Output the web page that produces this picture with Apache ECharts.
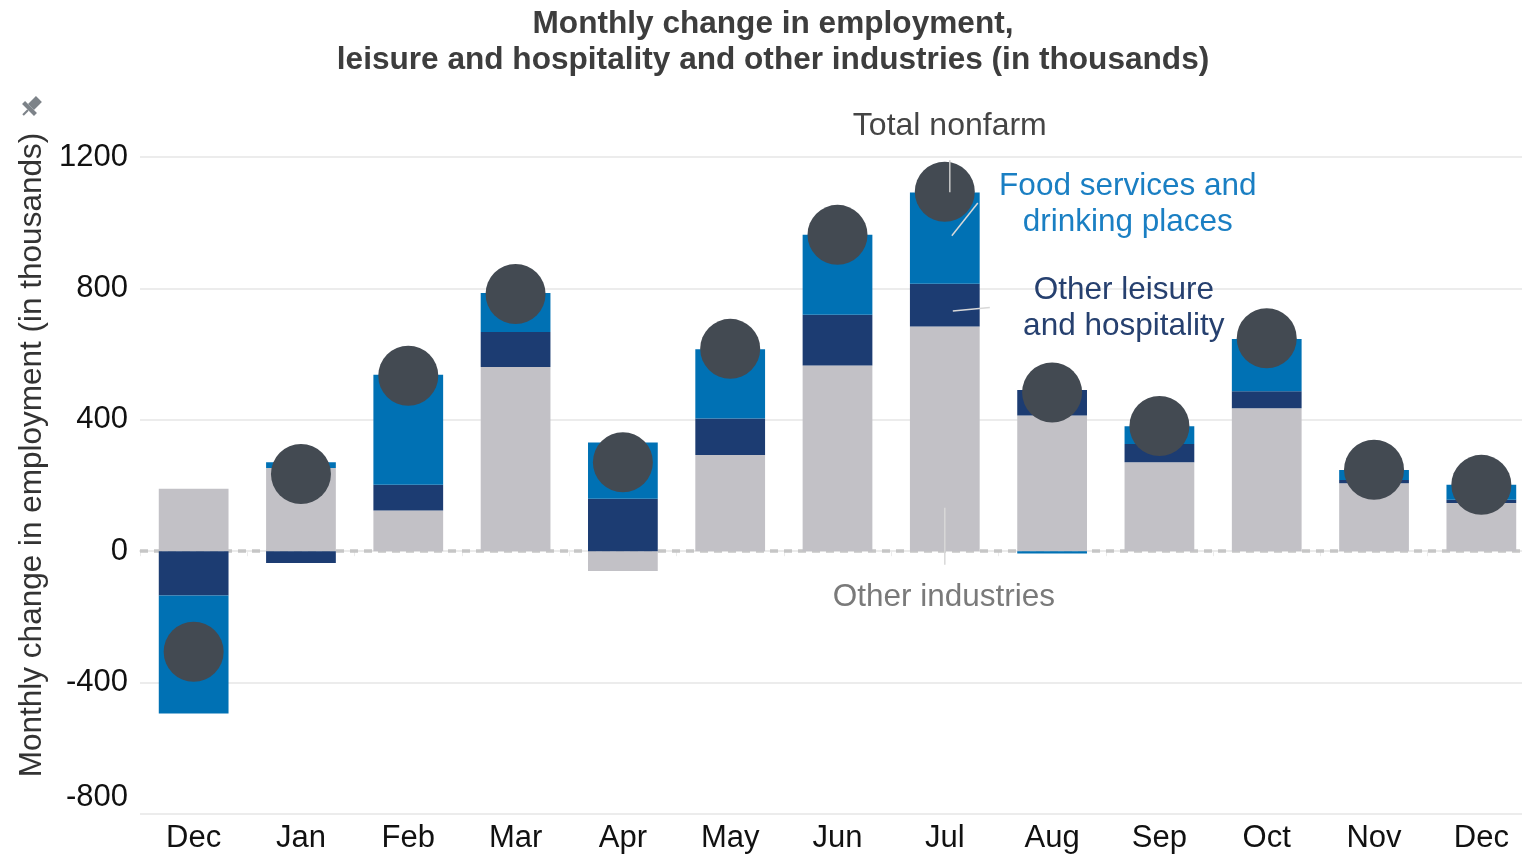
<!DOCTYPE html>
<html>
<head>
<meta charset="utf-8">
<script src="https://cdn.jsdelivr.net/npm/echarts@6/dist/echarts.min.js"></script>
<style>
html,body{margin:0;padding:0;background:#fff;}
#chart{width:1522px;height:855px;}
</style>
</head>
<body>
<div id="chart"></div>
<script>
const categories = ['Dec','Jan','Feb','Mar','Apr','May','Jun','Jul','Aug','Sep','Oct','Nov','Dec'];
const otherIndustries = [190, 253, 124, 561, -60, 293, 565, 684, 413, 271, 435, 207, 147];
const otherLeisure = [-135, -36, 78, 106, 160, 111, 155, 130, 78, 55, 52, 10, 10];
const foodServices = [-359, 18, 335, 119, 171, 211, 243, 278, -7, 54, 159, 30, 45];
const totalNonfarm = [-306, 235, 534, 783, 271, 616, 963, 1094, 483, 381, 648, 248, 202];
const yTicks = [-800, -400, 0, 400, 800, 1200];

const FONT = '"Liberation Sans", Arial, sans-serif';
const FS = 31;
const FA = 31.5;
const chart = echarts.init(document.getElementById('chart'));

const option = {
  animation: false,
  backgroundColor: '#ffffff',
  title: {
    text: 'Monthly change in employment,\nleisure and hospitality and other industries (in thousands)',
    left: 768,
    textAlign: 'center',
    top: 1,
    textStyle: { fontFamily: FONT, fontSize: 31.6, fontWeight: 'bold', color: '#3d3d3d', lineHeight: 36 }
  },
  grid: { left: 140, width: 1395, top: 157, bottom: 41, containLabel: false, outerBoundsMode: 'none' },
  xAxis: {
    type: 'category',
    data: categories,
    axisLine: { lineStyle: { color: '#ebebeb', width: 2 } },
    axisTick: { show: true, length: 5, lineStyle: { color: '#ebebeb', width: 1 } },
    axisLabel: { fontFamily: FONT, fontSize: FS, color: '#111', margin: 9 },
    splitLine: { show: false }
  },
  yAxis: {
    type: 'value',
    min: yTicks[0],
    max: yTicks[yTicks.length - 1],
    interval: 400,
    axisLine: { show: false },
    axisTick: { show: false },
    axisLabel: {
      fontFamily: FONT, fontSize: FS, color: '#111', margin: 12,
      formatter: v => v === yTicks[0] ? '{lo|' + v + '}' : String(v),
      rich: { lo: { fontFamily: FONT, fontSize: FS, color: '#111', padding: [0, 0, 34, 0] } }
    },
    splitLine: { lineStyle: { color: '#ececec', width: 2 } }
  },
  series: [
    {
      name: 'Other industries', type: 'bar', stack: 'emp', barWidth: '65%',
      data: otherIndustries,
      itemStyle: { color: '#c2c1c6' },
      z: 3,
      markLine: {
        silent: true, symbol: 'none', label: { show: false },
        lineStyle: { color: '#c6c6c6', type: [8, 6], width: 3.5, opacity: 1 },
        data: [{ yAxis: 0 }],
        z: 1
      }
    },
    {
      name: 'Other leisure and hospitality', type: 'bar', stack: 'emp', z: 3,
      data: otherLeisure,
      itemStyle: { color: '#1c3c72' }
    },
    {
      name: 'Food services and drinking places', type: 'bar', stack: 'emp', z: 3,
      data: foodServices,
      itemStyle: { color: '#0071b4' }
    },
    {
      name: 'Total nonfarm', type: 'scatter',
      data: totalNonfarm,
      symbolSize: 60,
      itemStyle: { color: '#434a52', opacity: 1 },
      z: 10
    }
  ]
};
chart.setOption(option);

function px(xi, v) { return chart.convertToPixel({ gridIndex: 0 }, [xi, v]); }

const pTotal = px(7, 1294);
const pFood = px(7, 1057);
const pLeis = px(7, 740);
const pOther = px(7, -141);
const l1a = px(7, 1190), l1b = px(7, 1093);
const l2a = px(7, 1060), l2b = px(7, 960);
const l3a = px(7, 742), l3b = px(7, 731);
const l4a = px(7, 132), l4b = px(7, -41);

chart.setOption({
  graphic: [
    { type: 'group', x: 31, y: 107, rotation: -Math.PI / 4, scaleX: 1.4, scaleY: 1.4, z: 100, children: [
      { type: 'rect', shape: { x: -3, y: -8, width: 6, height: 8 }, style: { fill: '#7d8389' } },
      { type: 'rect', shape: { x: -6, y: 0, width: 12, height: 3 }, style: { fill: '#7d8389' } },
      { type: 'line', shape: { x1: 0, y1: 3, x2: 0, y2: 8 }, style: { stroke: '#7d8389', lineWidth: 1.5 } }
    ] },
    { type: 'text', z: 100, x: 32, y: 455, rotation: Math.PI / 2,
      style: { text: 'Monthly change in employment (in thousands)', font: FA + 'px ' + FONT, fill: '#333', textAlign: 'center', textVerticalAlign: 'middle' } },
    { type: 'text', z: 100, x: pTotal[0] + 5, y: pTotal[1],
      style: { text: 'Total nonfarm', font: '32px ' + FONT, fill: '#454545', textAlign: 'center', textVerticalAlign: 'middle' } },
    { type: 'text', z: 100, x: pFood[0] + 183, y: pFood[1],
      style: { text: 'Food services and\ndrinking places', font: FA + 'px ' + FONT, fill: '#1a7fc3', textAlign: 'center', textVerticalAlign: 'middle', lineHeight: 36 } },
    { type: 'text', z: 100, x: pLeis[0] + 179, y: pLeis[1],
      style: { text: 'Other leisure\nand hospitality', font: FA + 'px ' + FONT, fill: '#26406f', textAlign: 'center', textVerticalAlign: 'middle', lineHeight: 36 } },
    { type: 'text', z: 100, x: pOther[0] - 1, y: pOther[1],
      style: { text: 'Other industries', font: FA + 'px ' + FONT, fill: '#7a7a7a', textAlign: 'center', textVerticalAlign: 'middle' } },
    { type: 'line', z: 100, shape: { x1: l1a[0] + 5, y1: l1a[1], x2: l1b[0] + 5, y2: l1b[1] }, style: { stroke: '#c8c8c8', lineWidth: 1.5 } },
    { type: 'line', z: 100, shape: { x1: l2a[0] + 33, y1: l2a[1], x2: l2b[0] + 7, y2: l2b[1] }, style: { stroke: '#d8d8d8', lineWidth: 1.5 } },
    { type: 'line', z: 100, shape: { x1: l3a[0] + 45, y1: l3a[1], x2: l3b[0] + 8, y2: l3b[1] }, style: { stroke: '#d8d8d8', lineWidth: 1.5 } },
    { type: 'line', z: 100, shape: { x1: l4a[0], y1: l4a[1], x2: l4b[0], y2: l4b[1] }, style: { stroke: '#d8d8d8', lineWidth: 1.5 } }
  ]
});
</script>
</body>
</html>
